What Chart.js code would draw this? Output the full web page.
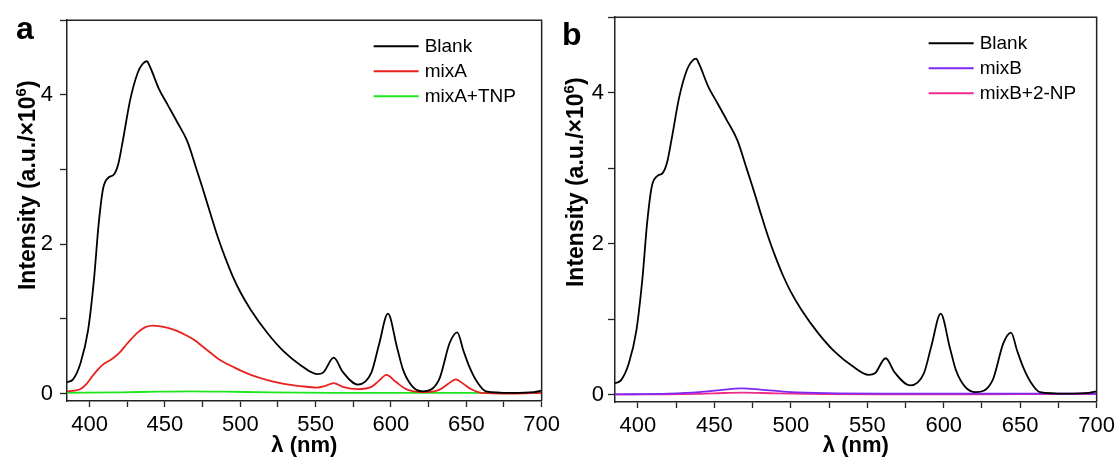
<!DOCTYPE html>
<html><head><meta charset="utf-8">
<script src="https://cdn.jsdelivr.net/npm/chart.js@4.4.1/dist/chart.umd.min.js"></script>
<style>
html,body{margin:0;padding:0;background:#fff;overflow:hidden;width:1116px;height:462px;}
#wa{position:absolute;left:0;top:0;width:565px;height:462px;}
#wb{position:absolute;left:550px;top:0;width:570px;height:462px;}
</style></head><body>
<div id="wa"><canvas id="ca" width="565" height="462"></canvas></div>
<div id="wb"><canvas id="cb" width="570" height="462"></canvas></div>
<script>
// ---- data (λ in nm, intensity in a.u. ×10^6) ----
const wlBlank = [385,389,394,399,403,406,409,413,416,419,422,427,432,435,438,440,446,452,458,465,471,475,480,485,490,495,500,507,518,529,540,551,555,562,568,578,587,592,598,604,608,614,621,632,639,644,648,652,657,663,680,695,700];
const blank = [0.15,0.19,0.41,0.85,1.55,2.27,2.75,2.9,2.93,3.07,3.38,3.94,4.3,4.41,4.45,4.38,4.08,3.86,3.64,3.37,3.0,2.75,2.42,2.1,1.82,1.57,1.36,1.12,0.81,0.56,0.38,0.26,0.28,0.48,0.29,0.12,0.28,0.65,1.07,0.62,0.32,0.1,0.03,0.19,0.68,0.82,0.58,0.36,0.16,0.03,0.01,0.02,0.04];
const wlMixA = [385,390,394,398,401,405,409,413,416,420,425,432,437,442,447,452,458,465,470,475,480,485,490,496,500,507,518,529,540,551,556,562,568,578,587,592,597,603,610,621,632,638,643,648,653,660,680,700];
const mixA = [0.03,0.04,0.06,0.13,0.21,0.31,0.39,0.44,0.48,0.55,0.67,0.82,0.89,0.91,0.9,0.88,0.84,0.77,0.71,0.63,0.55,0.47,0.41,0.35,0.31,0.25,0.18,0.13,0.1,0.08,0.1,0.14,0.09,0.06,0.09,0.17,0.25,0.16,0.06,0.02,0.05,0.13,0.19,0.13,0.06,0.01,0.0,0.01];
const wlMixATNP = [385,420,445,468,490,520,560,600,650,700];
const mixATNP = [0.01,0.015,0.025,0.03,0.025,0.015,0.01,0.01,0.01,0.01];
const wlMixB = [385,420,440,455,468,480,500,530,560,600,650,700];
const mixB = [0.0,0.01,0.03,0.06,0.08,0.065,0.03,0.015,0.01,0.01,0.01,0.01];
const wlMixBNP = [385,430,450,468,490,520,560,600,650,700];
const mixBNP = [0.0,0.005,0.015,0.025,0.015,0.005,0.0,0.0,0.005,0.005];
const xTickLabels = [400,450,500,550,600,650,700];
const yTickLabels = [0,2,4];

const FONT = "'Liberation Sans', Arial, Helvetica, sans-serif";
const pts = (xs, ys) => xs.map((x, i) => ({x: x, y: ys[i]}));

const decorPlugin = {
  id: 'decor',
  afterDraw(chart) {
    const o = chart.options.plugins.decor;
    const ctx = chart.ctx, a = chart.chartArea;
    ctx.save();
    // top and right frame
    ctx.strokeStyle = '#222'; ctx.lineWidth = 1.5;
    ctx.beginPath();
    ctx.moveTo(a.left, a.top); ctx.lineTo(a.right, a.top); ctx.lineTo(a.right, a.bottom);
    ctx.stroke();
    // legend
    ctx.font = '19px ' + FONT; ctx.textBaseline = 'middle'; ctx.textAlign = 'left';
    chart.data.datasets.forEach((ds, i) => {
      const y = a.top + 26 + 25 * i;
      ctx.strokeStyle = ds.borderColor; ctx.lineWidth = 2;
      ctx.beginPath(); ctx.moveTo(a.right - 168, y); ctx.lineTo(a.right - 123, y); ctx.stroke();
      ctx.fillStyle = '#000';
      ctx.fillText(ds.label, a.right - 117, y + 1);
    });
    // panel letter
    ctx.font = 'bold 32px ' + FONT; ctx.textBaseline = 'alphabetic'; ctx.fillStyle = '#000';
    ctx.fillText(o.letter, o.lx, o.ly);
    // y axis title with superscript
    const main = 'Intensity (a.u./×10', sup = '6', end = ')';
    const fMain = 'bold 23px ' + FONT, fSup = 'bold 15px ' + FONT;
    ctx.font = fMain; const w1 = ctx.measureText(main).width, w3 = ctx.measureText(end).width;
    ctx.font = fSup; const w2 = ctx.measureText(sup).width;
    const total = w1 + w2 + w3;
    ctx.translate(a.left - 32.5, a.top + 165);
    ctx.rotate(-Math.PI / 2);
    let x = -total / 2;
    ctx.font = fMain; ctx.fillText(main, x, 0); x += w1;
    ctx.font = fSup; ctx.fillText(sup, x, -9); x += w2;
    ctx.font = fMain; ctx.fillText(end, x, 0);
    ctx.restore();
  }
};

function makeChart(id, datasets, cfg) {
  return new Chart(document.getElementById(id), {
    type: 'line',
    data: { datasets: datasets.map(d => ({
      label: d.label, data: d.data, borderColor: d.color, backgroundColor: d.color,
      borderWidth: 1.8, pointRadius: 0, fill: false, cubicInterpolationMode: 'monotone'
    })) },
    plugins: [decorPlugin],
    options: {
      responsive: false, animation: false, events: [],
      layout: { padding: { top: cfg.top, right: cfg.right, left: 0, bottom: 0 } },
      plugins: { legend: { display: false }, tooltip: { enabled: false },
        decor: { letter: cfg.letter, lx: cfg.lx, ly: cfg.ly } },
      scales: {
        x: {
          type: 'linear', min: 385, max: 700,
          afterBuildTicks: s => { s.ticks = s.ticks.filter(t => Math.abs(t.value % 25) < 1e-6); },
          afterFit: s => { s.height = cfg.xh; },
          ticks: { stepSize: 25, includeBounds: false, autoSkip: false, maxRotation: 0, color: '#000', padding: 5,
            font: { family: FONT, size: 22 },
            callback: v => xTickLabels.includes(v) ? String(v) : '' },
          grid: { drawOnChartArea: false, tickLength: 6, color: '#222', tickWidth: 1.3 },
          border: { display: true, color: '#222', width: 1.5 },
          title: { display: true, text: 'λ (nm)', color: '#000',
            font: { family: FONT, size: 22, weight: 'bold' }, padding: { top: 0, bottom: 3 } }
        },
        y: {
          type: 'linear', min: -0.1, max: 5,
          afterBuildTicks: s => { s.ticks = s.ticks.filter(t => Math.abs(t.value - Math.round(t.value)) < 1e-6); },
          afterFit: s => { s.width = cfg.yw; },
          ticks: { stepSize: 1, includeBounds: false, autoSkip: false, color: '#000', padding: cfg.ypad,
            font: { family: FONT, size: 22 },
            callback: v => yTickLabels.includes(v) ? String(v) : '' },
          grid: { drawOnChartArea: false, tickLength: 7, color: '#222', tickWidth: 1.3 },
          border: { display: true, color: '#222', width: 1.5 },
          title: { display: false }
        }
      }
    }
  });
}

makeChart('ca', [
  { label: 'Blank', data: pts(wlBlank, blank), color: '#000000' },
  { label: 'mixA', data: pts(wlMixA, mixA), color: '#e8221e' },
  { label: 'mixA+TNP', data: pts(wlMixATNP, mixATNP), color: '#1ee61e' }
], { top: 17, right: 23, xh: 61, yw: 67, ypad: 7, letter: 'a', lx: 16, ly: 39 });

makeChart('cb', [
  { label: 'Blank', data: pts(wlBlank, blank), color: '#000000' },
  { label: 'mixB', data: pts(wlMixB, mixB), color: '#7f28f5' },
  { label: 'mixB+2-NP', data: pts(wlMixBNP, mixBNP), color: '#ee2a8a' }
], { top: 16, right: 23, xh: 60, yw: 65, ypad: 4, letter: 'b', lx: 12, ly: 45 });
</script>
</body></html>
